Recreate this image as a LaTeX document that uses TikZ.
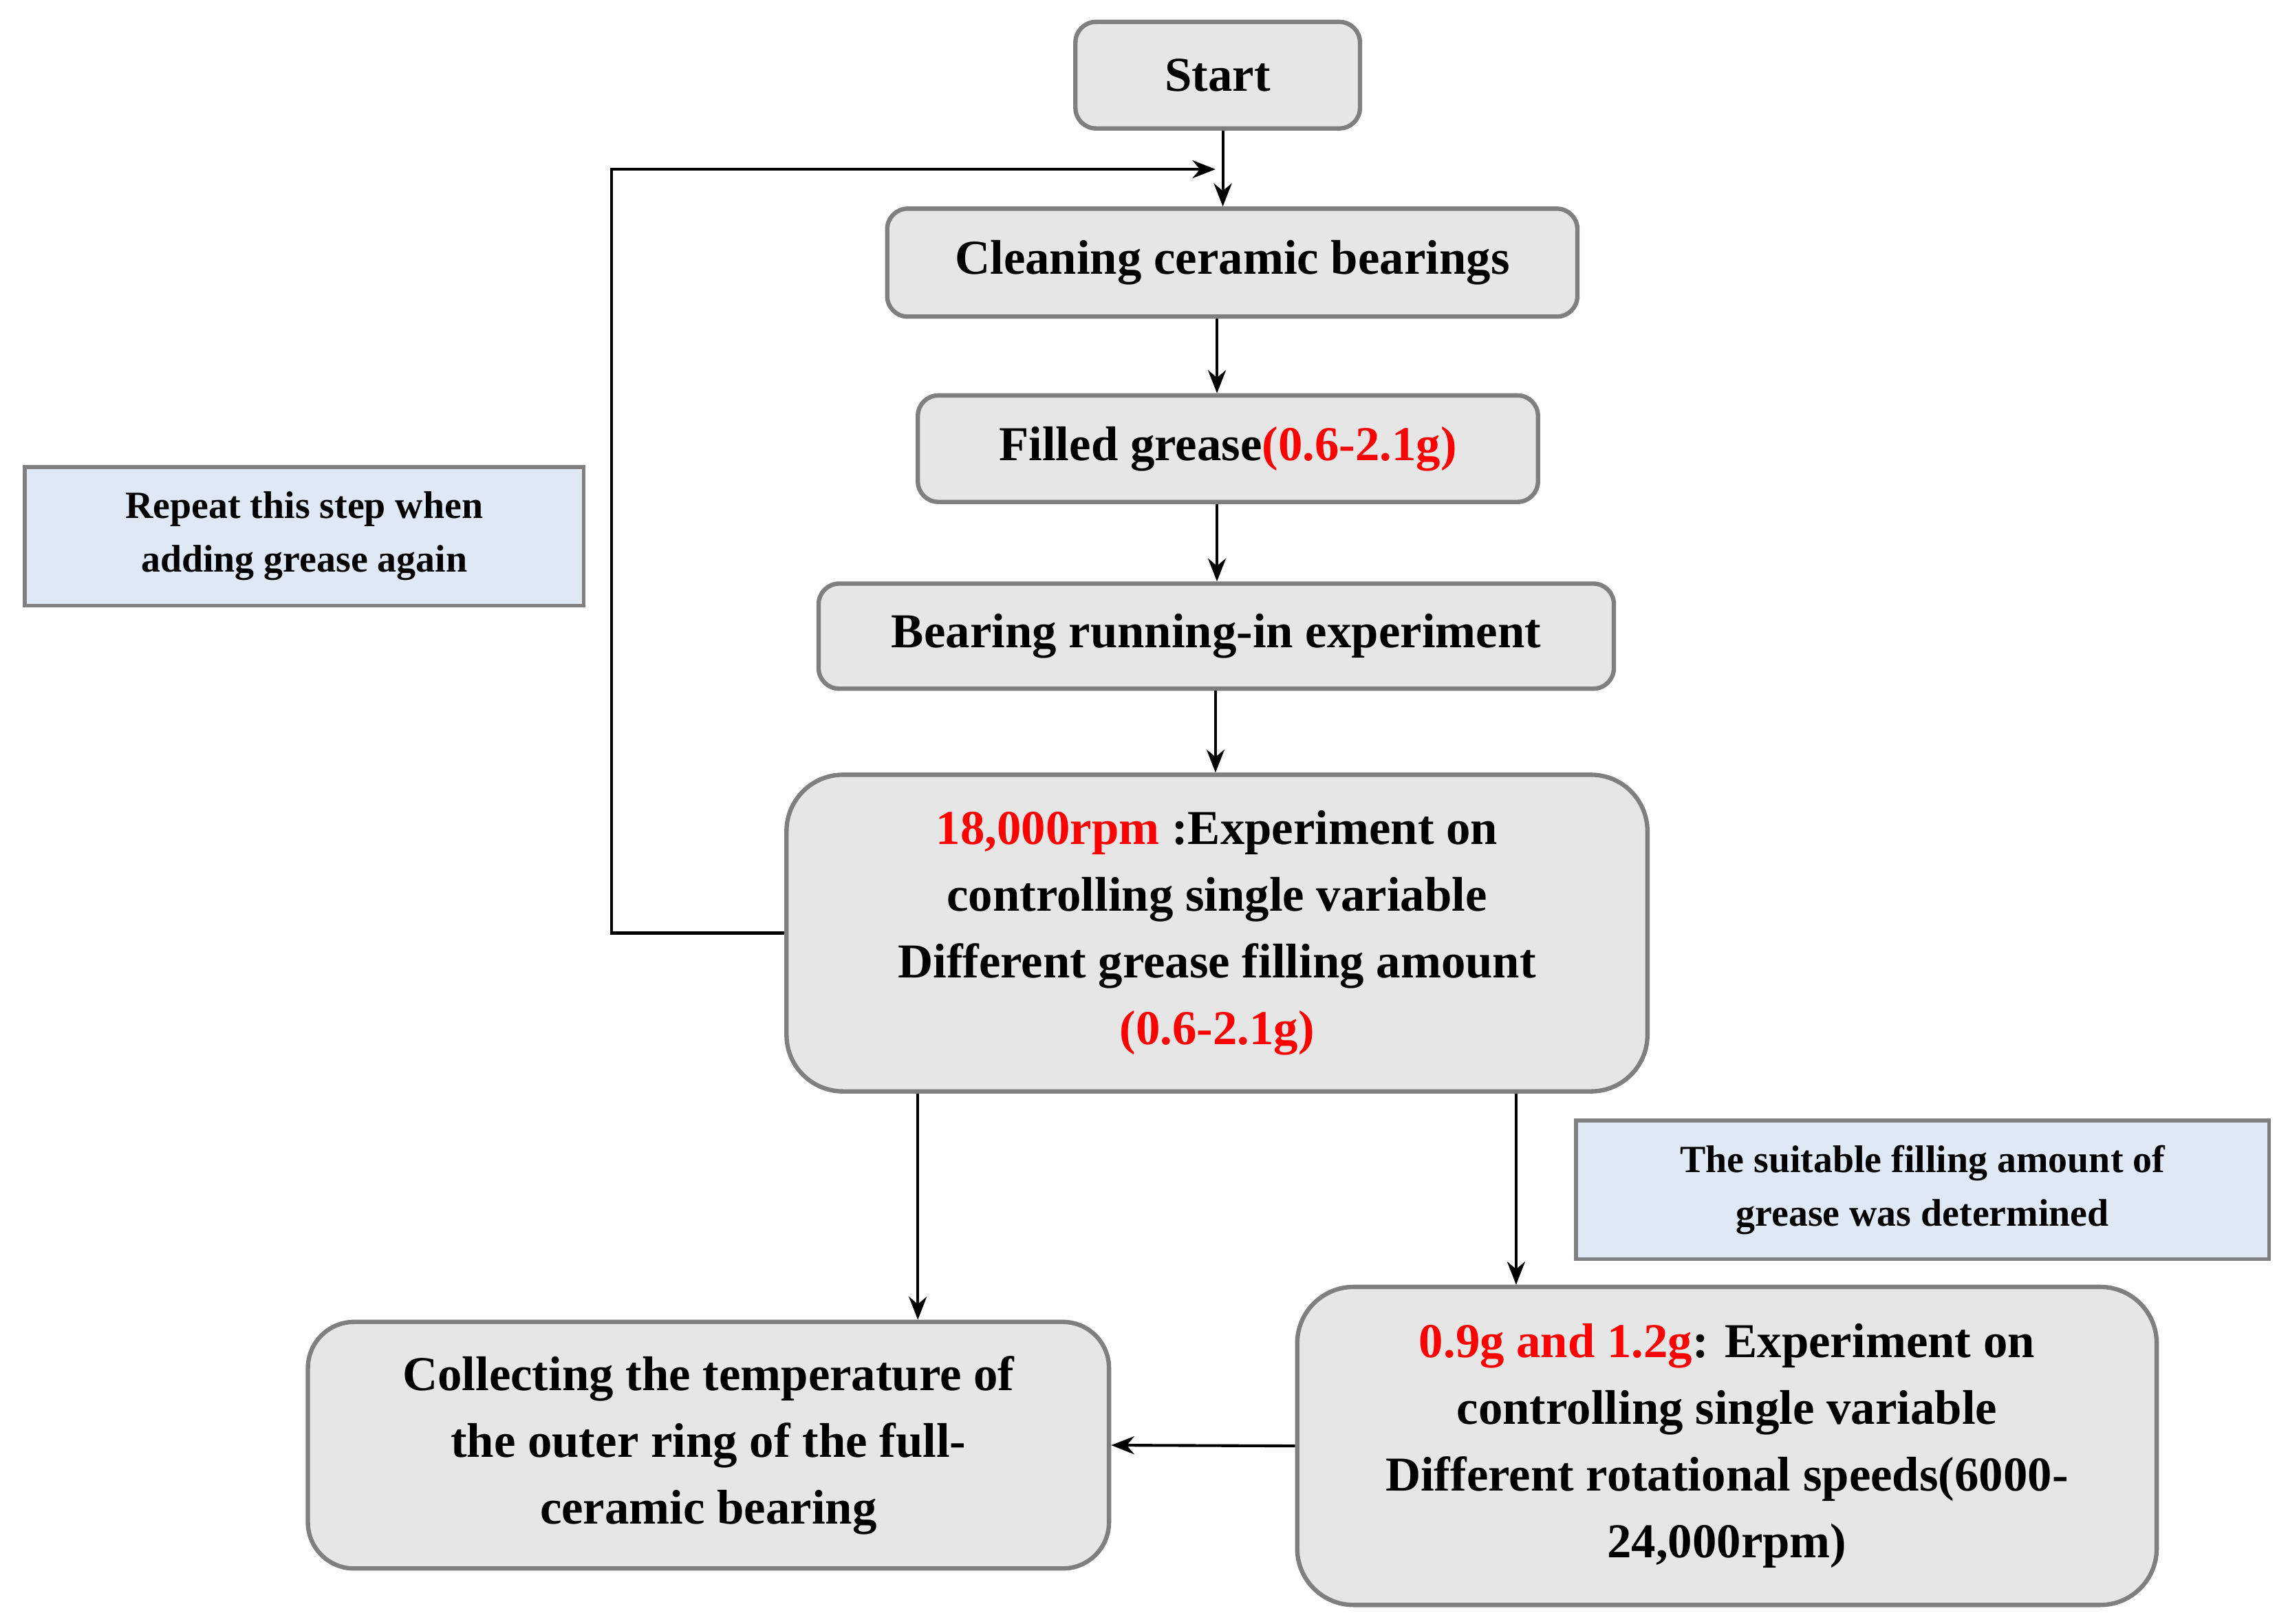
\documentclass[tikz,border=0pt]{standalone}
\usepackage{fontspec}
\setmainfont{Liberation Serif}
\usetikzlibrary{arrows.meta}
\definecolor{boxg}{HTML}{E6E6E6}
\definecolor{boxb}{HTML}{DEE9F5}
\definecolor{edge}{HTML}{7F7F7F}
\begin{document}
\begin{tikzpicture}[x=0.02cm,y=-0.02cm,
  gb/.style={draw=edge,line width=1.7pt,fill=boxg,rounded corners=8pt,align=center,inner sep=0pt,font=\fontsize{19}{26}\selectfont\bfseries},
  bb/.style={draw=edge,line width=1.5pt,fill=boxb,align=center,inner sep=0pt,font=\fontsize{15}{21}\selectfont\bfseries},
  ar/.style={line width=1.1pt,-{Stealth[length=9pt,width=7pt]}}]
\useasboundingbox (0,0) rectangle (1568,1113);
\fill[white] (0,0) rectangle (1568,1113);
\node[gb,minimum width=195*0.02cm,minimum height=73*0.02cm] (start) at (834.5,51.5) {Start};
\node[gb,minimum width=473*0.02cm,minimum height=74*0.02cm] (clean) at (844.5,180) {Cleaning ceramic bearings};
\node[gb,minimum width=425*0.02cm,minimum height=73*0.02cm] (fill) at (841.5,307.5) {Filled grease\textcolor{red}{(0.6-2.1g)}};
\node[gb,minimum width=545*0.02cm,minimum height=72*0.02cm] (run) at (833.5,436) {Bearing running-in experiment};
\node[gb,rounded corners=22pt,minimum width=590*0.02cm,minimum height=217*0.02cm] (exp) at (834,639.5) {\textcolor{red}{18,000rpm} :Experiment on\\controlling single variable\\Different grease filling amount\\\textcolor{red}{(0.6-2.1g)}};
\node[bb,minimum width=383*0.02cm,minimum height=95*0.02cm] (rep) at (208.5,367.5) {Repeat this step when\\adding grease again};
\node[bb,minimum width=475*0.02cm,minimum height=95*0.02cm] (suit) at (1317.5,815.5) {The suitable filling amount of\\grease was determined};
\node[gb,rounded corners=18pt,minimum width=549*0.02cm,minimum height=169*0.02cm] (coll) at (485.5,990.5) {Collecting the temperature of\\the outer ring of the full-\\ceramic bearing};
\node[gb,rounded corners=22pt,minimum width=589*0.02cm,minimum height=218*0.02cm] (speed) at (1183.5,991) {\textcolor{red}{0.9g and 1.2g}: Experiment on\\controlling single variable\\Different rotational speeds(6000-\\24,000rpm)};
\coordinate (loopend) at (833,116);
\draw[ar] (start.south -| 838,0) -- (clean.north -| 838,0);
\draw[ar] (clean.south -| 834,0) -- (fill.north -| 834,0);
\draw[ar] (fill.south -| 834,0) -- (run.north -| 834,0);
\draw[ar] (run.south -| 833,0) -- (exp.north -| 833,0);
\draw[ar] (exp.west) -- (419,639.5) -- (419,116) -- (loopend);
\draw[ar] (exp.south -| 629,0) -- (coll.north -| 629,0);
\draw[ar] (exp.south -| 1039,0) -- (speed.north -| 1039,0);
\draw[ar] (speed.west) -- (coll.east);
\end{tikzpicture}
\end{document}
